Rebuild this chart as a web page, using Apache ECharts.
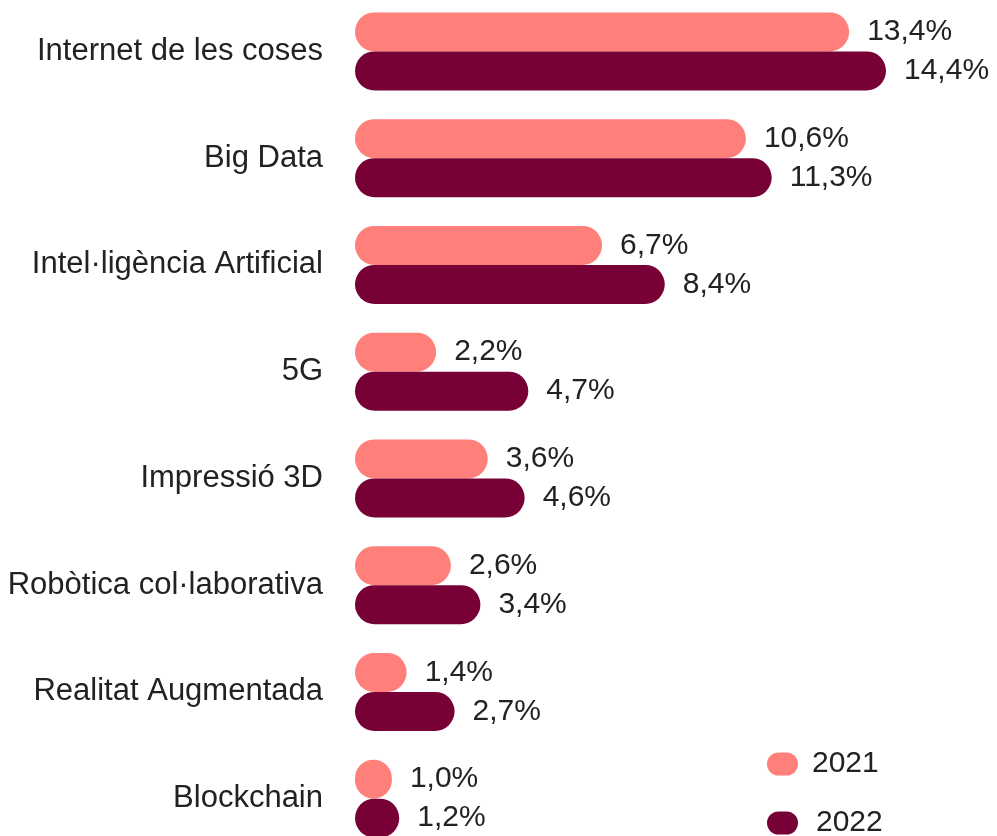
<!DOCTYPE html>
<html>
<head>
<meta charset="utf-8">
<script src="https://cdn.jsdelivr.net/npm/echarts@6/dist/echarts.min.js"></script>
<style>
  html, body { margin: 0; padding: 0; background: #fff; }
  #chart { width: 997px; height: 836px; }
</style>
</head>
<body>
<div id="chart"></div>
<script>
const categories = [
  'Internet de les coses',
  'Big Data',
  'Intel·ligència Artificial',
  '5G',
  'Impressió 3D',
  'Robòtica col·laborativa',
  'Realitat Augmentada',
  'Blockchain'
];
const values2021 = [13.4, 10.6, 6.7, 2.2, 3.6, 2.6, 1.4, 1.0];
const values2022 = [14.4, 11.3, 8.4, 4.7, 4.6, 3.4, 2.7, 1.2];
const seriesNames = ['2021', '2022'];

const FONT = '"Liberation Sans", Arial, sans-serif';
const TEXT = '#222';
const pill = 'path://M11.5,0 H19.5 A11.5,11.5 0 0 1 19.5,23 H11.5 A11.5,11.5 0 0 1 11.5,0 Z';

const fmt = (p) => p.value.toFixed(1).replace('.', ',') + '%';

const barSeries = (name, data, color) => ({
  name: name,
  type: 'bar',
  data: data,
  barWidth: 39,
  barGap: '0%',
  itemStyle: { color: color, borderRadius: 20 },
  label: {
    show: true,
    position: 'right',
    distance: 18,
    formatter: fmt,
    fontSize: 30,
    fontFamily: FONT,
    color: TEXT
  }
});

// one legend per year so they stack the way the original does
const legendFor = (name, top, textLeft) => ({
  left: 767,
  top: top,
  padding: 0,
  itemWidth: 31,
  itemHeight: 23,
  icon: pill,
  data: [name],
  textStyle: { fontSize: 30, fontFamily: FONT, color: TEXT, padding: [0, 0, 0, textLeft] }
});

const chart = echarts.init(document.getElementById('chart'));
chart.setOption({
  animation: false,
  // last group runs off the bottom edge in the original
  grid: { left: 355, right: 52, top: -2, height: 854, containLabel: false, outerBoundsMode: 'none' },
  legend: [
    legendFor(seriesNames[0], 749, 9),
    legendFor(seriesNames[1], 808, 13)
  ],
  xAxis: {
    type: 'value',
    min: 0,
    max: 16,
    show: false
  },
  yAxis: {
    type: 'category',
    data: categories,
    inverse: true,
    axisLine: { show: false },
    axisTick: { show: false },
    axisLabel: { margin: 32, fontSize: 31, fontFamily: FONT, color: TEXT }
  },
  series: [
    barSeries(seriesNames[0], values2021, '#FF7F7B'),
    barSeries(seriesNames[1], values2022, '#770036')
  ]
});
</script>
</body>
</html>
